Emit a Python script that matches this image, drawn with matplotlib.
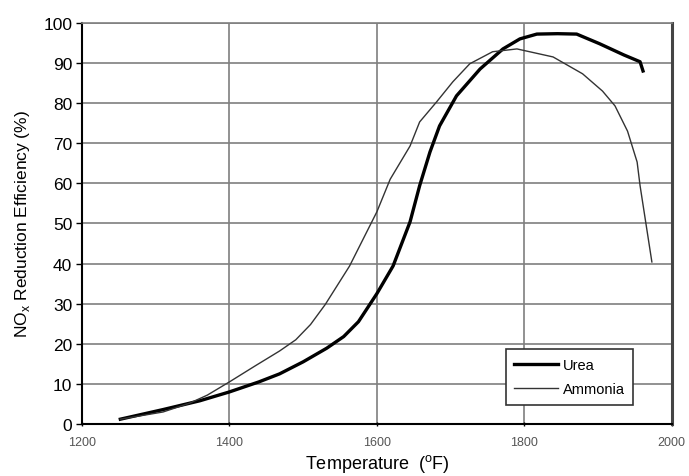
import matplotlib
matplotlib.use("Agg")
import matplotlib.pyplot as plt

urea_T = [1252, 1310, 1360, 1400, 1440, 1468, 1500, 1532, 1555, 1575, 1600, 1622, 1645, 1658,
          1672, 1685, 1708, 1740, 1771, 1794, 1817, 1845, 1871, 1902, 1935, 1957, 1961]
urea_eff = [1.2, 3.6, 5.8, 8.0, 10.5, 12.5, 15.5, 18.9, 21.8, 25.5, 32.5, 39.4, 50.4, 59.4,
            67.8, 74.3, 81.8, 88.5, 93.5, 96.0, 97.2, 97.3, 97.2, 94.8, 92.0, 90.3, 88.0]

amm_T = [1252, 1310, 1346, 1370, 1400, 1435, 1468, 1490, 1510, 1530, 1563, 1600, 1618, 1645,
         1658, 1681, 1703, 1726, 1757, 1790, 1839, 1879, 1906, 1923, 1940, 1953, 1957, 1973]
amm_eff = [1.2, 3.0, 5.2, 7.2, 10.5, 14.5, 18.2, 21.0, 24.8, 29.8, 39.4, 52.9, 61.0, 69.3,
           75.3, 80.3, 85.3, 89.8, 92.8, 93.5, 91.5, 87.3, 83.0, 79.3, 73.0, 65.3, 59.4, 40.4]

x_ticks = [1200, 1400, 1600, 1800, 2000]
y_ticks = list(range(0, 101, 10))

plt.rcParams['font.family'] = ['Liberation Sans', 'DejaVu Sans']

fig = plt.figure(figsize=(6.89, 4.77), dpi=100)
ax = fig.add_axes([0.119, 0.109, 0.856, 0.841])

ax.plot(urea_T, urea_eff, color='black', lw=2.4, label='Urea', zorder=3)
ax.plot(amm_T, amm_eff, color='#333333', lw=1.0, label='Ammonia', zorder=3)

ax.set_xlim(1200, 2000)
ax.set_ylim(0, 100)
ax.set_xticks(x_ticks)
ax.set_yticks(y_ticks)
ax.grid(True, color='#7f7f7f', lw=1.2)
ax.set_axisbelow(True)

ax.tick_params(axis='y', labelsize=12.5, length=4, direction='out', width=1, pad=3)
ax.tick_params(axis='x', labelsize=9, length=3, direction='inout', width=1,
               labelcolor='#555555', pad=7)

for s in ['left', 'bottom']:
    ax.spines[s].set_color('black')
    ax.spines[s].set_linewidth(1.5)
ax.spines['right'].set_color('#444444')
ax.spines['right'].set_linewidth(2.2)
ax.spines['top'].set_color('#7f7f7f')
ax.spines['top'].set_linewidth(1.2)

ax.set_ylabel('NO$_\\mathregular{x}$ Reduction Efficiency (%)', fontsize=12.5, labelpad=8)
ax.set_xlabel('Temperature  ($\\mathregular{^o}$F)', fontsize=13, labelpad=3)

leg = ax.legend(loc='lower right', bbox_to_anchor=(0.947, 0.03), fancybox=False,
                framealpha=1, edgecolor='#333333', fontsize=10.5, handlelength=3.0,
                borderpad=0.6, labelspacing=0.7, handletextpad=0.3)
leg.get_frame().set_linewidth(1.2)

fig.savefig('out.png', dpi=100)
